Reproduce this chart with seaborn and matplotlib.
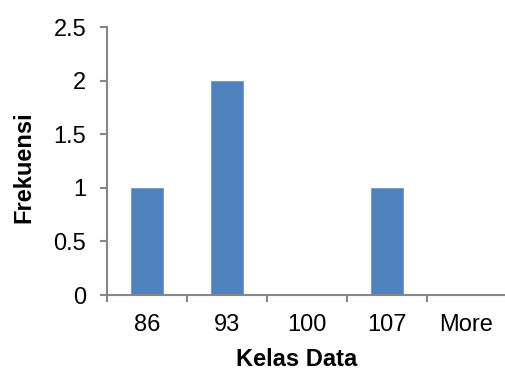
import matplotlib
matplotlib.use("Agg")
import matplotlib.pyplot as plt
import seaborn as sns
import numpy as np

categories = ["86", "93", "100", "107", "More"]
frequencies = [1, 2, 0, 1, 0]
y_ticks = [0, 0.5, 1, 1.5, 2, 2.5]
y_tick_labels = ["0", "0.5", "1", "1.5", "2", "2.5"]

sns.set_style("white")
plt.rcParams["font.family"] = ["Liberation Sans", "DejaVu Sans"]
plt.rcParams["text.color"] = "black"

W, H = 506, 371
fig = plt.figure(figsize=(W / 100, H / 100), dpi=100)
left, right, top, bottom = 107, 506.5, 27, 295
ax = fig.add_axes([left / W, (H - bottom) / H, (right - left) / W, (bottom - top) / H])

sns.barplot(x=categories, y=frequencies, color="#4F81BD", saturation=1,
            width=0.4, ax=ax, edgecolor="#6A94C9", linewidth=0.6)

ax.set_xlim(-0.5, len(categories) - 0.5)
ax.set_ylim(0, 2.5)
ax.set_yticks(y_ticks)
ax.set_yticklabels(y_tick_labels)
ax.set_xlabel("")
ax.set_ylabel("")

spine_c = "#868686"
for s in ["top", "right"]:
    ax.spines[s].set_visible(False)
for s in ["left", "bottom"]:
    ax.spines[s].set_color(spine_c)
    ax.spines[s].set_linewidth(1.5)

ax.tick_params(axis="y", direction="out", length=5, width=1.5, color=spine_c,
               labelsize=17, pad=10, left=True, labelcolor="black")
ax.tick_params(axis="x", which="major", length=0, labelsize=17, pad=14,
               labelcolor="black")
ax.set_xticks(np.arange(-0.5, len(categories), 1.0), minor=True)
ax.tick_params(axis="x", which="minor", direction="out", length=5, width=1.5,
               color=spine_c, bottom=True)

fig.text(30 / W, 1 - 167 / H, "Frekuensi", rotation=90, rotation_mode="anchor",
         ha="center", va="baseline", fontsize=17, fontweight="bold", color="black")
fig.text(297 / W, 1 - 366 / H, "Kelas Data", ha="center", va="baseline",
         fontsize=17, fontweight="bold", color="black")

fig.savefig("out.png", dpi=100)
